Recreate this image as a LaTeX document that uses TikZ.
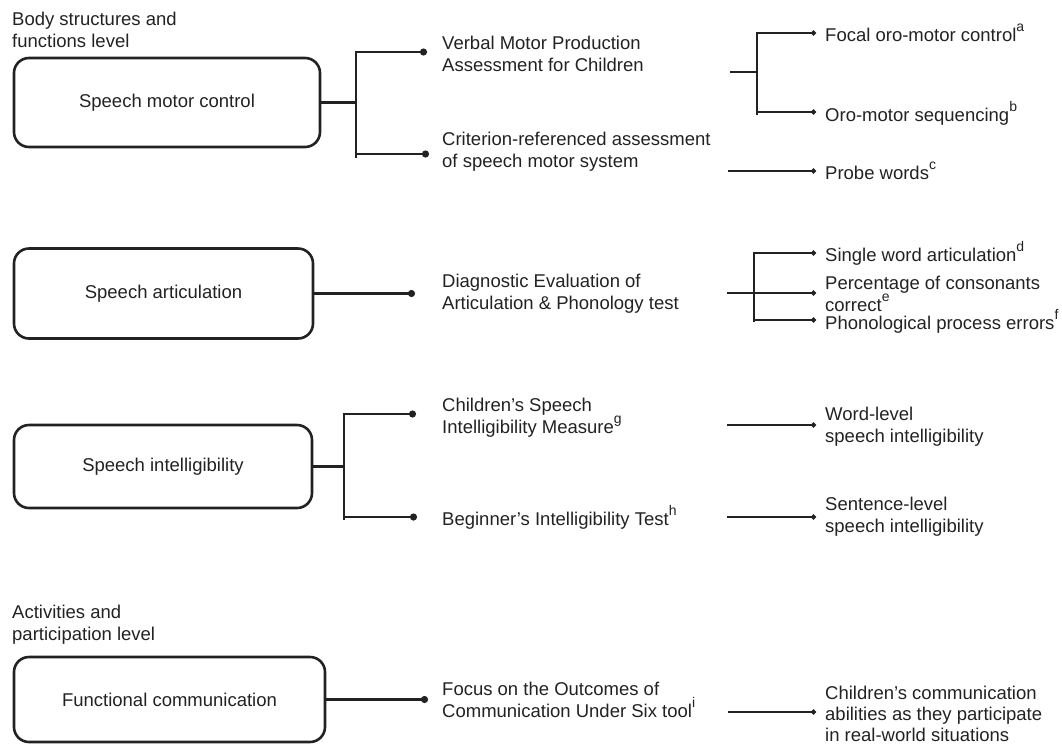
\documentclass[tikz,border=0pt]{standalone}
\usepackage{fontspec}
\setmainfont{Liberation Sans}
\usetikzlibrary{arrows.meta}
\definecolor{ink}{HTML}{222222}
\newcommand{\supr}[1]{\raisebox{0.55em}{\fontsize{14}{14}\selectfont #1}}
\begin{document}
\begin{tikzpicture}[x=1pt,y=-1pt,
  every node/.style={text=ink},
  box/.style={draw=ink, line width=2.6pt, rounded corners=15pt, inner sep=0pt,
    font=\fontsize{18.5}{22}\selectfont},
  txt/.style={anchor=west, align=left, inner sep=0pt, font=\fontsize{18.5}{22}\selectfont},
  thk/.style={draw=ink, line width=2.4pt},
  thn/.style={draw=ink, line width=1.6pt},
  dotL/.style={-{Circle[length=7pt]}},
  dotS/.style={-{Circle[length=5pt]}}]
\useasboundingbox (0,0) rectangle (1062,745);

% level labels
\node[txt] (lev1) at (12,30) {Body structures and\\functions level};
\node[txt] (lev2) at (12,625) {Activities and\\participation level};

% boxes
\node[box, minimum width=306pt, minimum height=89pt] (b1) at (167,102.5) {Speech motor control};
\node[box, minimum width=299pt, minimum height=90pt] (b2) at (163.5,293.5) {Speech articulation};
\node[box, minimum width=298pt, minimum height=83pt] (b3) at (163,466.5) {Speech intelligibility};
\node[box, minimum width=311pt, minimum height=85pt] (b4) at (169.5,699.5) {Functional communication};

% middle column texts
\node[txt] (vmp) at (442,54) {Verbal Motor Production\\Assessment for Children};
\node[txt] (crit) at (442,152) {Criterion-referenced assessment\\of speech motor system};
\node[txt] (dea) at (442,294) {Diagnostic Evaluation of\\Articulation \& Phonology test};
\node[txt] (csim) at (442,418) {Children’s Speech\\Intelligibility Measure\supr{g}};
\node[txt] (bit) at (442,517) {Beginner’s Intelligibility Test\supr{h}};
\node[txt] (focus) at (442,700) {Focus on the Outcomes of\\Communication Under Six tool\supr{i}};

% right column texts
\node[txt] (focal) at (825,33) {Focal oro-motor control\supr{a}};
\node[txt] (oro) at (825,113) {Oro-motor sequencing\supr{b}};
\node[txt] (probe) at (825,171) {Probe words\supr{c}};
\node[txt] (single) at (825,253) {Single word articulation\supr{d}};
\node[txt, font=\fontsize{18.5}{19}\selectfont] (pcc) at (825,294) {Percentage of consonants\\correct\supr{e}};
\node[txt] (phon) at (825,321) {Phonological process errors\supr{f}};
\node[txt] (word) at (825,427) {Word-level\\speech intelligibility};
\node[txt] (sent) at (825,517) {Sentence-level\\speech intelligibility};
\node[txt, font=\fontsize{18.5}{21}\selectfont] (child) at (825,714) {Children’s communication\\abilities as they participate\\in real-world situations};

% ---- row 1 left bracket
\coordinate (j1) at (356,102.5);
\coordinate (j1a) at (356,52);
\coordinate (j1b) at (356,154);
\draw[thk] (b1.east) -- (j1);
\draw[thk] ([yshift=1.2pt]j1a) -- ([yshift=-4pt]j1b);
\draw[thk,dotL] (j1a) -- ([xshift=-15pt]vmp.west |- j1a);
\draw[thk,dotL] (j1b) -- ([xshift=-13pt]crit.west |- j1b);

% ---- row 1 right bracket
\coordinate (k1) at (757,72);
\coordinate (k1s) at (730,72);
\coordinate (k1a) at (757,33);
\coordinate (k1b) at (757,112);
\draw[thn] (k1s) -- (k1);
\draw[thn] ([yshift=0.8pt]k1a) -- ([yshift=-3pt]k1b);
\draw[thn,dotS] (k1a) -- ([xshift=-9pt]focal.west |- k1a);
\draw[thn,dotS] (k1b) -- ([xshift=-9pt]oro.west |- k1b);
\coordinate (p1) at (728,171);
\draw[thn,dotS] (p1) -- ([xshift=-9pt]probe.west |- p1);

% ---- row 2
\draw[thk,dotL] (b2.east) -- ([xshift=-27pt]dea.west |- b2.east);
\coordinate (k2a) at (754,253);
\coordinate (k2b) at (754,320);
\coordinate (k2s) at (727,293);
\draw[thn] ([yshift=0.8pt]k2a) -- ([yshift=-2pt]k2b);
\draw[thn,dotS] (k2a) -- ([xshift=-9pt]single.west |- k2a);
\draw[thn,dotS] (k2s) -- ([xshift=-9pt]pcc.west |- k2s);
\draw[thn,dotS] (k2b) -- ([xshift=-9pt]phon.west |- k2b);

% ---- row 3
\coordinate (j3) at (344,466.5);
\coordinate (j3a) at (344,414);
\coordinate (j3b) at (344,517);
\draw[thk] (b3.east) -- (j3);
\draw[thk] ([yshift=1.2pt]j3a) -- ([yshift=-3pt]j3b);
\draw[thk,dotL] (j3a) -- ([xshift=-26pt]csim.west |- j3a);
\draw[thk,dotL] (j3b) -- ([xshift=-25pt]bit.west |- j3b);
\coordinate (q3a) at (727,425);
\coordinate (q3b) at (727,517);
\draw[thn,dotS] (q3a) -- ([xshift=-9pt]word.west |- q3a);
\draw[thn,dotS] (q3b) -- ([xshift=-9pt]sent.west |- q3b);

% ---- row 4
\draw[thk,dotL] (b4.east) -- ([xshift=-14pt]focus.west |- b4.east);
\coordinate (q4) at (728,712);
\draw[thn,dotS] (q4) -- ([xshift=-9pt]child.west |- q4);
\end{tikzpicture}
\end{document}
